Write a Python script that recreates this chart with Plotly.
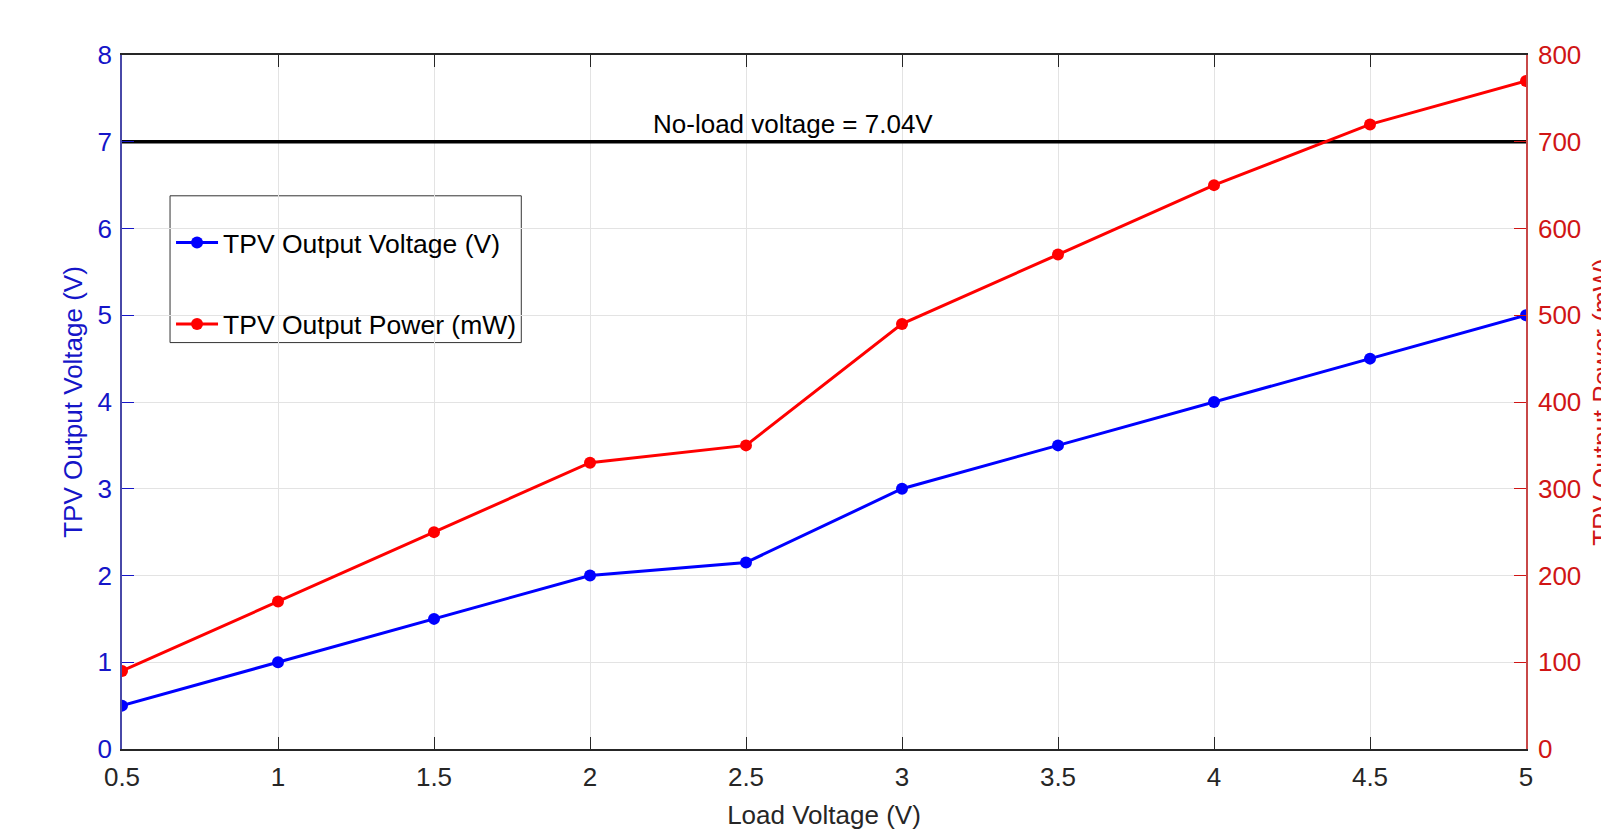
import plotly.graph_objects as go

load_voltage = [0.5, 1, 1.5, 2, 2.5, 3, 3.5, 4, 4.5, 5]
tpv_voltage = [0.5, 1.0, 1.5, 2.0, 2.15, 3.0, 3.5, 4.0, 4.5, 5.0]
tpv_power = [90, 170, 250, 330, 350, 490, 570, 650, 720, 770]
no_load_level = 7.0
no_load_label = "No-load voltage = 7.04V"
x_ticks = [0.5, 1, 1.5, 2, 2.5, 3, 3.5, 4, 4.5, 5]
x_tick_text = ["0.5", "1", "1.5", "2", "2.5", "3", "3.5", "4", "4.5", "5"]

FONT = "Liberation Sans, Arial, Helvetica, sans-serif"
BLUE = "#0000ff"
RED = "#ff0000"
BLUE_TXT = "#1515c8"
RED_TXT = "#d01515"
FS = 26

fig = go.Figure()

fig.add_trace(go.Scatter(
    x=[load_voltage[0], load_voltage[-1]], y=[no_load_level, no_load_level],
    mode="lines", line=dict(color="black", width=3.5), showlegend=False,
    hoverinfo="skip"))

fig.add_trace(go.Scatter(
    x=load_voltage, y=tpv_voltage, mode="lines+markers",
    name="TPV Output Voltage (V)", legendgroup="a",
    line=dict(color=BLUE, width=3), marker=dict(color=BLUE, size=12)))

fig.add_trace(go.Scatter(
    x=load_voltage, y=tpv_power, mode="lines+markers", yaxis="y2",
    name="TPV Output Power (mW)", legendgroup="b",
    line=dict(color=RED, width=3), marker=dict(color=RED, size=12)))

fig.add_annotation(x=2.65, y=7.2, text=no_load_label, showarrow=False,
                   font=dict(family=FONT, size=FS, color="black"))

# legend box (plot area is about 1403 x 695 px)
PW, PH = 1403.0, 695.0
fig.add_shape(type="rect", xref="paper", yref="paper",
              x0=(169 - 121) / PW, x1=(520 - 121) / PW,
              y0=(748 - 341) / PH, y1=(748 - 194) / PH,
              line=dict(color="#333333", width=1), fillcolor="white", layer="below")

fig.update_layout(
    width=1609, height=832,
    margin=dict(l=114, r=91, t=47, b=91, autoexpand=False),
    paper_bgcolor="white", plot_bgcolor="white",
    font=dict(family=FONT, size=FS, color="#262626"),
    showlegend=True,
    legend=dict(x=(170 - 121) / PW, y=(748 - 217) / PH, xanchor="left", yanchor="top",
                bgcolor="rgba(0,0,0,0)", borderwidth=0, itemwidth=42,
                font=dict(family=FONT, size=26.5, color="black"),
                traceorder="grouped", tracegroupgap=44),
    xaxis=dict(range=[0.5, 5], tickvals=x_ticks, ticktext=x_tick_text,
               showgrid=True, gridcolor="#e3e3e3", gridwidth=1,
               ticks="inside", ticklen=12, tickcolor="#262626",
               showline=True, linecolor="#262626", linewidth=1.5, mirror="ticks",
               zeroline=False, ticklabelstandoff=4, automargin=False,
               tickfont=dict(size=FS, color="#262626"),
               title=dict(text="Load Voltage (V)", font=dict(size=FS, color="#262626"), standoff=15)),
    yaxis=dict(range=[0, 8], dtick=1, showgrid=True, gridcolor="#e3e3e3",
               ticks="inside", ticklen=12, tickcolor=BLUE_TXT,
               showline=True, linecolor="#4848a8", linewidth=1.5,
               zeroline=False, ticklabelstandoff=3, automargin=False,
               tickfont=dict(size=FS, color=BLUE_TXT),
               title=dict(text="TPV Output Voltage (V)", font=dict(size=FS, color=BLUE_TXT), standoff=7)),
    yaxis2=dict(range=[0, 800], dtick=100, overlaying="y", side="right",
                showgrid=False, ticks="inside", ticklen=12, tickcolor=RED_TXT,
                showline=True, linecolor="#c84848", linewidth=1.5,
                zeroline=False, ticklabelstandoff=5, automargin=False,
                tickfont=dict(size=FS, color=RED_TXT),
                title=dict(text="TPV Output Power (mW)", font=dict(size=FS, color=RED_TXT), standoff=18)),
)

fig.write_html("out.html")
